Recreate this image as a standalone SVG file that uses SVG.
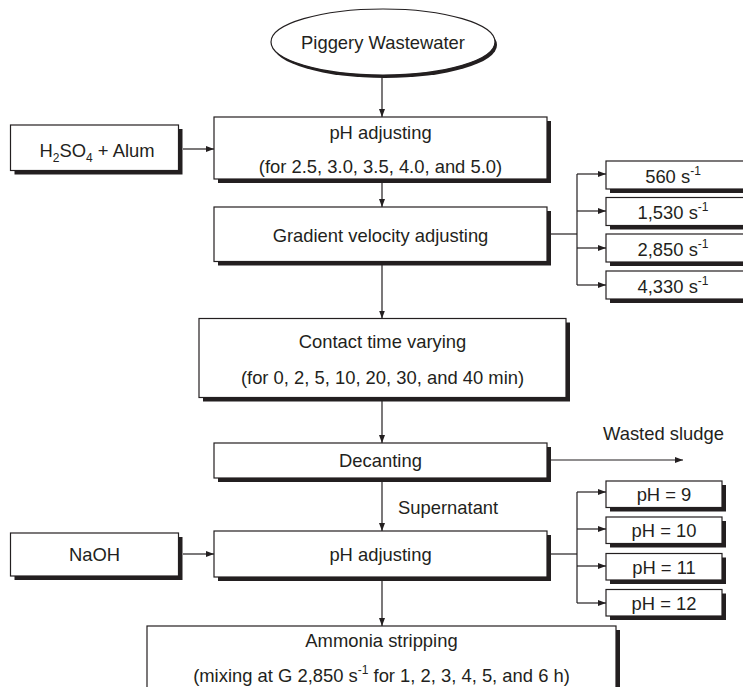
<svg xmlns="http://www.w3.org/2000/svg" width="743" height="687" viewBox="0 0 743 687">
<defs>
<style>
.box{fill:#fff;stroke:#231f20;stroke-width:1.2}
.sh{fill:#231f20}
.t{font-family:"Liberation Sans",Arial,sans-serif;font-size:18.4px;fill:#231f20;text-anchor:middle}
.tl{font-family:"Liberation Sans",Arial,sans-serif;font-size:18.4px;fill:#231f20}
.s{font-size:12px}
.ln{fill:none;stroke:#231f20;stroke-width:1.2}
</style>
<marker id="ah" markerUnits="userSpaceOnUse" markerWidth="8" markerHeight="8" viewBox="0 0 8 8" refX="8" refY="4" orient="auto">
<path d="M0,1 L8,4 L0,7 Z" fill="#231f20"/>
</marker>
</defs>
<rect width="743" height="687" fill="#fff"/>

<g id="connectors">
<line class="ln" x1="382" y1="75" x2="382" y2="117" marker-end="url(#ah)"/>
<line class="ln" x1="382" y1="183" x2="382" y2="207" marker-end="url(#ah)"/>
<line class="ln" x1="382" y1="265" x2="382" y2="318.5" marker-end="url(#ah)"/>
<line class="ln" x1="382" y1="401" x2="382" y2="443" marker-end="url(#ah)"/>
<line class="ln" x1="382" y1="482" x2="382" y2="531" marker-end="url(#ah)"/>
<line class="ln" x1="382" y1="581" x2="382" y2="626" marker-end="url(#ah)"/>
<line class="ln" x1="183" y1="149" x2="214" y2="149" marker-end="url(#ah)"/>
<line class="ln" x1="183" y1="554" x2="214" y2="554" marker-end="url(#ah)"/>
<line class="ln" x1="551" y1="234" x2="577" y2="234"/>
<line class="ln" x1="577" y1="174" x2="577" y2="285"/>
<line class="ln" x1="577" y1="174" x2="606" y2="174" marker-end="url(#ah)"/>
<line class="ln" x1="577" y1="211" x2="606" y2="211" marker-end="url(#ah)"/>
<line class="ln" x1="577" y1="248" x2="606" y2="248" marker-end="url(#ah)"/>
<line class="ln" x1="577" y1="285" x2="606" y2="285" marker-end="url(#ah)"/>
<line class="ln" x1="551" y1="554" x2="577" y2="554"/>
<line class="ln" x1="577" y1="492" x2="577" y2="603"/>
<line class="ln" x1="577" y1="492" x2="606" y2="492" marker-end="url(#ah)"/>
<line class="ln" x1="577" y1="529" x2="606" y2="529" marker-end="url(#ah)"/>
<line class="ln" x1="577" y1="566" x2="606" y2="566" marker-end="url(#ah)"/>
<line class="ln" x1="577" y1="603" x2="606" y2="603" marker-end="url(#ah)"/>
<line class="ln" x1="551" y1="460" x2="683" y2="460" marker-end="url(#ah)"/>
<text class="tl" x="603" y="440">Wasted sludge</text>
<text class="tl" x="398" y="514">Supernatant</text>
</g>

<g id="piggery">
<ellipse cx="385" cy="45" rx="112" ry="33" class="sh"/>
<ellipse cx="383" cy="42" rx="112" ry="33" class="box"/>
<text class="t" x="383" y="48.5">Piggery Wastewater</text>
</g>

<g id="h2so4">
<rect class="sh" x="14.5" y="129" width="168" height="45.5"/>
<rect class="box" x="10.5" y="125" width="168" height="45.5"/>
<text class="t" x="97" y="157">H<tspan class="s" dy="5">2</tspan><tspan dy="-5">SO</tspan><tspan class="s" dy="5">4</tspan><tspan dy="-5"> + Alum</tspan></text>
</g>

<g id="ph1">
<rect class="sh" x="218" y="121" width="333" height="62"/>
<rect class="box" x="214" y="117" width="333" height="62"/>
<text class="t" x="380.5" y="139">pH adjusting</text>
<text class="t" x="380.5" y="173">(for 2.5, 3.0, 3.5, 4.0, and 5.0)</text>
</g>

<g id="gradient">
<rect class="sh" x="218" y="211" width="333" height="54.5"/>
<rect class="box" x="214" y="207" width="333" height="54.5"/>
<text class="t" x="380.5" y="242">Gradient velocity adjusting</text>
</g>

<g id="g560">
<rect class="sh" x="610" y="165" width="140" height="28"/>
<rect class="box" x="606" y="161" width="144" height="28"/>
<text class="t" x="673" y="182.5">560 s<tspan class="s" dy="-8">-1</tspan></text>
</g>
<g id="g1530">
<rect class="sh" x="610" y="201.5" width="140" height="28"/>
<rect class="box" x="606" y="197.5" width="144" height="28"/>
<text class="t" x="673" y="219">1,530 s<tspan class="s" dy="-8">-1</tspan></text>
</g>
<g id="g2850">
<rect class="sh" x="610" y="238" width="140" height="28"/>
<rect class="box" x="606" y="234" width="144" height="28"/>
<text class="t" x="673" y="255.5">2,850 s<tspan class="s" dy="-8">-1</tspan></text>
</g>
<g id="g4330">
<rect class="sh" x="610" y="275" width="140" height="28"/>
<rect class="box" x="606" y="271" width="144" height="28"/>
<text class="t" x="673" y="292.5">4,330 s<tspan class="s" dy="-8">-1</tspan></text>
</g>

<g id="contact">
<rect class="sh" x="203" y="322.5" width="367" height="79"/>
<rect class="box" x="199" y="318.5" width="367" height="79"/>
<text class="t" x="382.5" y="348">Contact time varying</text>
<text class="t" x="382.5" y="384">(for 0, 2, 5, 10, 20, 30, and 40 min)</text>
</g>

<g id="decanting">
<rect class="sh" x="218" y="447" width="333" height="35"/>
<rect class="box" x="214" y="443" width="333" height="35"/>
<text class="t" x="380.5" y="466.5">Decanting</text>
</g>

<g id="naoh">
<rect class="sh" x="14.5" y="537" width="168" height="43"/>
<rect class="box" x="10.5" y="533" width="168" height="43"/>
<text class="t" x="94.5" y="561">NaOH</text>
</g>

<g id="ph2">
<rect class="sh" x="218" y="535" width="333" height="46"/>
<rect class="box" x="214" y="531" width="333" height="46"/>
<text class="t" x="380.5" y="561">pH adjusting</text>
</g>

<g id="ph9">
<rect class="sh" x="610" y="485" width="116" height="26.5"/>
<rect class="box" x="606" y="481" width="116" height="26.5"/>
<text class="t" x="664" y="501">pH = 9</text>
</g>
<g id="ph10">
<rect class="sh" x="610" y="521" width="116" height="26.5"/>
<rect class="box" x="606" y="517" width="116" height="26.5"/>
<text class="t" x="664" y="537">pH = 10</text>
</g>
<g id="ph11">
<rect class="sh" x="610" y="557.5" width="116" height="26.5"/>
<rect class="box" x="606" y="553.5" width="116" height="26.5"/>
<text class="t" x="664" y="573.5">pH = 11</text>
</g>
<g id="ph12">
<rect class="sh" x="610" y="593.5" width="116" height="26.5"/>
<rect class="box" x="606" y="589.5" width="116" height="26.5"/>
<text class="t" x="664" y="609.5">pH = 12</text>
</g>

<g id="ammonia">
<rect class="sh" x="151" y="630" width="469" height="80"/>
<rect class="box" x="147" y="626" width="469" height="80"/>
<text class="t" x="381.5" y="646.5">Ammonia stripping</text>
<text class="t" x="381.5" y="682">(mixing at G 2,850 s<tspan class="s" dy="-8">-1</tspan><tspan dy="8"> for 1, 2, 3, 4, 5, and 6 h)</tspan></text>
</g>
</svg>
